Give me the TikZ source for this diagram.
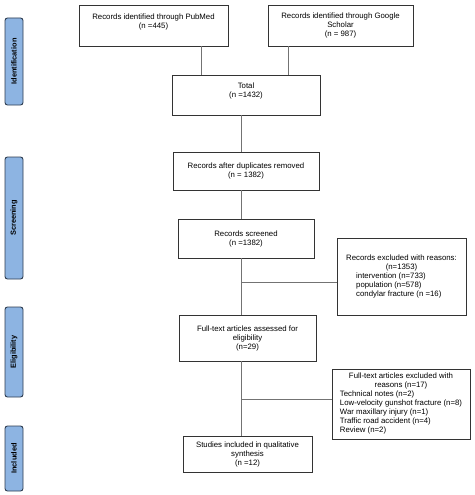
\documentclass[tikz,border=0pt]{standalone}
\usepackage{fontspec}
\setmainfont{Liberation Sans}
\definecolor{phasefill}{RGB}{141,180,226}
\definecolor{phasedraw}{RGB}{45,60,80}
\begin{document}
\begin{tikzpicture}[x=1pt,y=-1pt,
  box/.style={draw=black!80, line width=0.8pt, inner sep=0pt, align=center, font=\fontsize{7.8}{9}\selectfont},
  phase/.style={draw=phasedraw, line width=0.9pt, fill=phasefill, rounded corners=2.5pt, inner sep=0pt, font=\fontsize{7.4}{8}\selectfont\bfseries},
  link/.style={draw=black!55, line width=0.8pt}]
\useasboundingbox (0,0) rectangle (474,495);
% phase labels
\node[phase, minimum width=87pt, minimum height=18pt, rotate=90] (lid) at (14,61.5) {Identification};
\node[phase, minimum width=122pt, minimum height=18pt, rotate=90] (lsc) at (14,218) {Screening};
\node[phase, minimum width=90pt, minimum height=18pt, rotate=90] (lel) at (14,352) {Eligibility};
\node[phase, minimum width=65pt, minimum height=18pt, rotate=90] (lin) at (14,458.5) {Included};
% boxes
\node[box, minimum width=149pt, minimum height=41pt] (pub) at (153.5,25.5) {Records identified through PubMed\\(n =445)\\\mbox{}};
\node[box, minimum width=145pt, minimum height=41pt] (goo) at (340.5,25.5) {Records identified through Google\\Scholar\\(n = 987)};
\node[box, minimum width=148pt, minimum height=40pt] (tot) at (246,95) {Total\\(n =1432)\\\mbox{}};
\node[box, minimum width=146pt, minimum height=38pt] (dup) at (246,171) {Records after duplicates removed\\(n = 1382)};
\node[box, minimum width=136pt, minimum height=39pt] (scr) at (246,238.5) {Records screened\\(n =1382)};
\node[box, minimum width=129pt, minimum height=77pt] (ex1) at (401.5,276.5) {\begin{tabular}{@{}l@{}}\multicolumn{1}{@{}c@{}}{Records excluded with reasons:}\\\multicolumn{1}{@{}c@{}}{(n=1353)}\\\hspace{10pt}intervention (n=733)\\\hspace{10pt}population (n=578)\\\hspace{10pt}condylar fracture (n =16)\end{tabular}};
\node[box, minimum width=137pt, minimum height=46pt] (ful) at (247.5,338) {Full-text articles assessed for\\eligibility\\(n=29)};
\node[box, minimum width=138pt, minimum height=70pt] (ex2) at (401,404) {\begin{tabular}{@{}l@{}}\multicolumn{1}{@{}c@{}}{Full-text articles excluded with}\\\multicolumn{1}{@{}c@{}}{reasons (n=17)}\\Technical notes (n=2)\\Low-velocity gunshot fracture (n=8)\\War maxillary injury (n=1)\\Traffic road accident (n=4)\\Review (n=2)\end{tabular}};
\node[box, minimum width=129pt, minimum height=36pt] (stu) at (247.5,454) {Studies included in qualitative\\synthesis\\(n =12)};
% connectors
\coordinate (b1) at (241,282);
\coordinate (b2) at (241,399);
\draw[link] (pub.south -| 201,0) -- (tot.north -| 201,0);
\draw[link] (goo.south -| 288,0) -- (tot.north -| 288,0);
\draw[link] (tot.south -| 241,0) -- (dup.north -| 241,0);
\draw[link] (dup.south -| 241,0) -- (scr.north -| 241,0);
\draw[link] (scr.south -| 241,0) -- (ful.north -| 241,0);
\draw[link] (b1) -- (b1 -| ex1.west);
\draw[link] (ful.south -| 241,0) -- (stu.north -| 241,0);
\draw[link] (b2) -- (b2 -| ex2.west);
\end{tikzpicture}
\end{document}
